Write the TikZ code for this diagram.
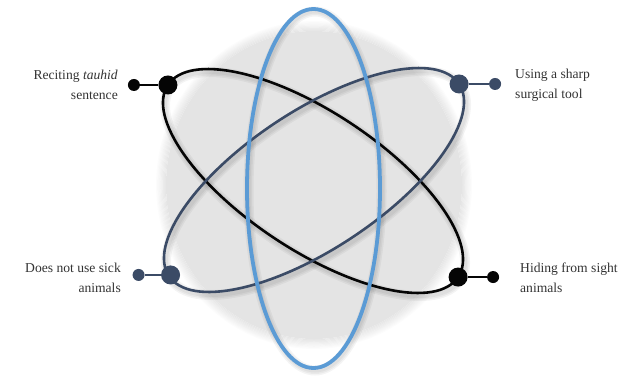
\documentclass[tikz,border=0pt]{standalone}
\usepackage{fontspec}
\setmainfont{Liberation Serif}
\definecolor{orbblack}{HTML}{050505}
\definecolor{orbnavy}{HTML}{3B4B66}
\definecolor{orbblue}{HTML}{5B9BD5}
\definecolor{ball}{HTML}{E4E4E4}
\definecolor{txt}{HTML}{333333}
\tikzset{
  orbit/.style={line width=2.6pt},
  glow/.style={draw=black, line width=#1, opacity=0.045},
  bigdot/.style={circle, inner sep=0pt, minimum size=19pt, fill=#1},
  smalldot/.style={circle, inner sep=0pt, minimum size=12pt, fill=#1},
  stem/.style={line width=2pt, draw=#1},
  lbl/.style={font=\fontsize{13.6}{20}\selectfont, text=txt, inner sep=0pt},
}
\begin{document}
\begin{tikzpicture}[x=1pt,y=-1pt]
\useasboundingbox (0,0) rectangle (628,376);
% sphere with a soft edge
\fill[ball] (314,185) ellipse (148 and 154);
\foreach \k in {1,...,9} {
  \pgfmathsetmacro{\op}{1-\k/10}
  \draw[draw=ball, line width=1.1pt, opacity=\op] (314,185) ellipse ({147.5+\k*1.1} and {153.5+\k*1.1});
}
% soft shadows of the orbits
\begin{scope}[shift={(315,184)}, rotate=-33.5]
  \foreach \w in {10,7,4} {\draw[glow=\w pt] (0,0) ellipse (174 and 69);}
\end{scope}
\begin{scope}[shift={(316,183)}, rotate=33.5]
  \foreach \w in {10,7,4} {\draw[glow=\w pt] (0,0) ellipse (174 and 69);}
\end{scope}
\foreach \w in {10,7,4} {\draw[glow=\w pt] (315,191) ellipse (66.5 and 179.5);}
% orbits
\begin{scope}[shift={(313,181)}, rotate=-33.5]
  \draw[orbit, draw=orbblack] (0,0) ellipse (174 and 69);
  \coordinate (bA) at (-174,0);
  \coordinate (bB) at (174,0);
\end{scope}
\begin{scope}[shift={(314,180)}, rotate=33.5]
  \draw[orbit, draw=orbnavy] (0,0) ellipse (174 and 69);
  \coordinate (nA) at (-172,0);
  \coordinate (nB) at (174,0);
\end{scope}
\draw[line width=3.8pt, draw=orbblue] (313.5,188.5) ellipse (66.5 and 179.5);
% dots
\node[bigdot=orbblack] (tl) at (bA) {};
\node[bigdot=orbblack] (br) at (bB) {};
\node[bigdot=orbnavy] (tr) at (nB) {};
\node[bigdot=orbnavy] (bl) at (nA) {};
\node[smalldot=orbblack] (tls) at ([xshift=-34pt]tl.center) {};
\node[smalldot=orbblack] (brs) at ([xshift=35pt]br.center) {};
\node[smalldot=orbnavy] (trs) at ([xshift=36pt]tr.center) {};
\node[smalldot=orbnavy] (bls) at ([xshift=-32pt]bl.center) {};
\draw[stem=orbblack] (tls) -- (tl);
\draw[stem=orbblack] (brs) -- (br);
\draw[stem=orbnavy] (trs) -- (tr);
\draw[stem=orbnavy] (bls) -- (bl);
% labels
\node[lbl, align=right, anchor=east] (t1) at (118,85) {Reciting \textit{tauhid}\\sentence};
\node[lbl, align=left, anchor=west] (t2) at (515,85) {Using a sharp\\surgical tool};
\node[lbl, align=right, anchor=east] (t3) at (121,278) {Does not use sick\\animals};
\node[lbl, align=left, anchor=west] (t4) at (520,278) {Hiding from sight\\animals};
\end{tikzpicture}
\end{document}
